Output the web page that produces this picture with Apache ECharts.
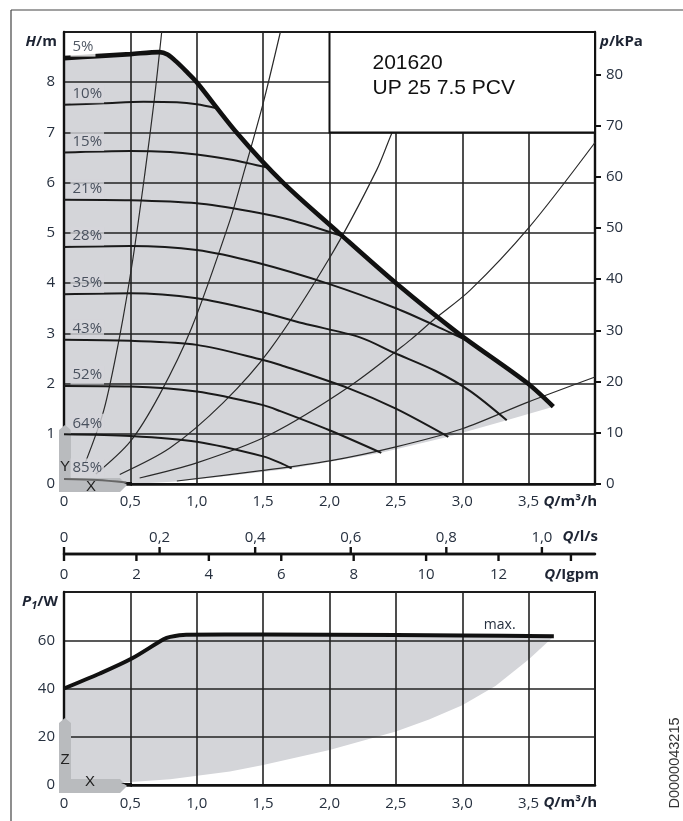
<!DOCTYPE html>
<html>
<head>
<meta charset="utf-8">
<script src="https://cdn.jsdelivr.net/npm/echarts@6/dist/echarts.min.js"></script>
<style>
html,body{margin:0;padding:0;background:#fff;}
#c{width:683px;height:821px;}
</style>
</head>
<body>
<div id="c"></div>
<script>
// ---- tick positions and labels ----
const qTicks = [0, 0.5, 1, 1.5, 2, 2.5, 3, 3.5];
const qTickText = ['0', '0,5', '1,0', '1,5', '2,0', '2,5', '3,0', '3,5'];
const hTicks = [0, 1, 2, 3, 4, 5, 6, 7, 8];
const kpaTicks = [0, 10, 20, 30, 40, 50, 60, 70, 80];
const lsTicks = [0, 0.2, 0.4, 0.6, 0.8, 1.0];
const lsTickText = ['0', '0,2', '0,4', '0,6', '0,8', '1,0'];
const gpmTicks = [0, 2, 4, 6, 8, 10, 12, 14];
const gpmLabelTicks = [0, 2, 4, 6, 8, 10, 12];
const pTicks = [0, 20, 40, 60];

// unit conversions for the secondary scales
const KPA_PER_M = 9.80665;
const M3H_PER_LS = 3.6;
const M3H_PER_IGPM = 0.2727654;

// ---- head curves, [Q m³/h, H m] ----
const pctNames = ['5%', '10%', '15%', '21%', '28%', '35%', '43%', '52%', '64%', '85%'];
const curve5 = [[0,8.48],[0.25,8.52],[0.5,8.56],[0.72,8.6],[0.78,8.55],[0.85,8.4],[0.92,8.22],[1.0,8.0],[1.3,7.0],[1.65,6.0],[2.07,5.0],[2.5,4.0],[2.97,3.0],[3.485,2.02],[3.686,1.54]];
const curve10 = [[0,7.55],[0.3,7.58],[0.6,7.61],[0.85,7.6],[1.0,7.56],[1.15,7.48]];
const curve15 = [[0,6.6],[0.5,6.63],[0.8,6.61],[1.0,6.56],[1.25,6.46],[1.55,6.29]];
const curve21 = [[0,5.66],[0.5,5.65],[1.0,5.59],[1.4,5.43],[1.7,5.26],[2.1,4.93]];
const curve28 = [[0,4.72],[0.5,4.74],[1.0,4.66],[1.45,4.41],[2.0,3.98],[2.5,3.5],[2.8,3.15],[3.08,2.8]];
const curve35 = [[0,3.78],[0.5,3.8],[1.0,3.7],[1.45,3.45],[1.8,3.2],[2.23,2.92],[2.48,2.62],[2.8,2.25],[3.06,1.85],[3.335,1.27]];
const curve43 = [[0,2.87],[0.5,2.85],[1.0,2.77],[1.5,2.47],[1.63,2.37],[2.15,1.9],[2.5,1.5],[2.895,0.94]];
const curve52 = [[0,1.95],[0.5,1.94],[1.0,1.84],[1.5,1.57],[1.63,1.45],[2.0,1.07],[2.39,0.62]];
const curve64 = [[0,0.99],[0.5,0.955],[1.0,0.84],[1.5,0.55],[1.63,0.42],[1.715,0.31]];
const curve85 = [[0,0.1],[0.25,0.08],[0.47,0.03]];

// lower limit of the operating range
const rangeLower = [[0.5,0],[0.85,0.05],[1.2,0.15],[1.715,0.31],[2.39,0.62],[2.895,0.94],[3.335,1.27],[3.686,1.54]];

// system curves
const sys1 = [[0.16,0.42],[0.3,1.47],[0.42,2.95],[0.52,4.5],[0.61,6.2],[0.68,7.65],[0.736,9.0]];
const sys2 = [[0.24,0.2],[0.5,0.85],[0.72,1.78],[0.96,3.1],[1.25,5.25],[1.36,6.25],[1.5,7.58],[1.63,9.0]];
const sys3 = [[0.42,0.19],[0.8,0.72],[1.2,1.62],[1.55,2.67],[2.0,4.5],[2.355,6.25],[2.48,7.05],[2.83,9.0]];
const sys4 = [[0.57,0.12],[1.0,0.42],[1.55,0.98],[2.15,1.94],[2.61,2.87],[2.78,3.26],[3.06,3.86],[3.5,5.1],[4.0,6.8]];
const sys5 = [[0.85,0.06],[1.5,0.27],[2.0,0.46],[2.5,0.74],[3.0,1.1],[3.485,1.62],[4.0,2.13]];

// ---- power input, [Q m³/h, P1 W] ----
const powerMax = [[0,40],[0.27,46.2],[0.51,52.4],[0.75,60.4],[0.8,61.4],[0.92,62.3],[1.5,62.4],[2.5,62.2],[3.0,62.0],[3.69,61.7]];
const powerLower = [[0.45,1.0],[0.8,2.4],[1.25,5.6],[1.5,8.3],[2.0,14.5],[2.5,22.2],[2.75,27.2],[3.0,33.1],[3.25,41.0],[3.5,52.0],[3.69,61.7]];

// info box spans this flow/head window
const infoBoxQ = [2.0, 4.0];
const infoBoxH = [7.0, 9.0];
const infoLines = ['201620', 'UP 25 7.5 PCV'];

const FONT = "'Open Sans', 'DejaVu Sans', sans-serif";
const TXT = '#26303f';
const FILL = '#d4d5d9';
const GRID_LINE = { show: true, lineStyle: { color: '#222', width: 1.6 } };
const MID_Y = 554;

const headCurves = [curve5, curve10, curve15, curve21, curve28, curve35, curve43, curve52, curve64, curve85];
const headRegion = [[0,0]].concat(curve5, rangeLower.slice().reverse());
const powerRegion = [[0,0]].concat(powerMax, powerLower.slice().reverse(), [[0.45,0]]);

function polygonSeries(points, xi, yi) {
  return {
    type: 'custom', xAxisIndex: xi, yAxisIndex: yi, z: 1, silent: true,
    data: points,
    renderItem: function (params, api) {
      if (params.dataIndex !== 0) return null;
      return {
        type: 'polygon',
        shape: { points: points.map(p => api.coord(p)) },
        style: { fill: FILL }
      };
    }
  };
}

function lineSeries(data, width, color, z, xi, yi) {
  return {
    type: 'line', data: data, xAxisIndex: xi || 0, yAxisIndex: yi || 0,
    showSymbol: false, symbol: 'none', smooth: 0.3, z: z, silent: true,
    lineStyle: { width: width, color: color }
  };
}

function qAxis(gridIndex, margin) {
  return {
    type: 'value', gridIndex: gridIndex, position: 'bottom', min: 0, max: 4, interval: 0.5, z: 3,
    axisLine: { show: true, onZero: false, lineStyle: { color: '#111', width: 2.6 } },
    axisTick: { show: false },
    axisLabel: {
      customValues: qTicks, margin: margin, color: TXT, fontSize: 15, fontFamily: FONT,
      formatter: v => qTickText[qTicks.indexOf(v)]
    },
    splitLine: GRID_LINE
  };
}

const series = [
  polygonSeries(headRegion, 0, 0),
  lineSeries(sys1, 1.2, '#2a2a2a', 4),
  lineSeries(sys2, 1.2, '#2a2a2a', 4),
  lineSeries(sys3, 1.2, '#2a2a2a', 4),
  lineSeries(sys4, 1.2, '#2a2a2a', 4),
  lineSeries(sys5, 1.2, '#2a2a2a', 4),
  lineSeries(curve10, 2, '#1a1a1a', 5),
  lineSeries(curve15, 2, '#1a1a1a', 5),
  lineSeries(curve21, 2, '#1a1a1a', 5),
  lineSeries(curve28, 2, '#1a1a1a', 5),
  lineSeries(curve35, 2, '#1a1a1a', 5),
  lineSeries(curve43, 2, '#1a1a1a', 5),
  lineSeries(curve52, 2, '#1a1a1a', 5),
  lineSeries(curve64, 2, '#1a1a1a', 5),
  lineSeries(curve85, 2, '#666', 5),
  lineSeries(curve5, 4.6, '#111', 6),
  {
    type: 'scatter', xAxisIndex: 0, yAxisIndex: 0, z: 7, silent: true,
    symbolSize: 1, itemStyle: { color: 'transparent' },
    data: headCurves.map((c, i) => i === 0
      ? { value: c[0], label: { backgroundColor: '#fff' } }
      : { value: c[0] }),
    label: {
      show: true, position: 'right', distance: 0, offset: [6, -11],
      align: 'left', verticalAlign: 'middle',
      formatter: p => pctNames[p.dataIndex],
      backgroundColor: FILL, padding: [1, 2], lineHeight: 17,
      color: TXT, fontSize: 15, fontFamily: FONT
    }
  },
  polygonSeries(powerRegion, 1, 2),
  Object.assign(lineSeries(powerMax, 4, '#111', 6, 1, 2), {
    endLabel: {
      show: true, formatter: 'max.', distance: 0, offset: [-70, -11],
      align: 'left', verticalAlign: 'middle',
      color: TXT, fontSize: 14, fontFamily: FONT
    }
  })
];

const option = {
  animation: false,
  backgroundColor: '#fff',
  textStyle: { fontFamily: FONT, color: TXT },
  grid: [
    { left: 64, top: 32, width: 531, height: 452, show: true, borderColor: '#111', borderWidth: 2, backgroundColor: 'transparent', z: 3 },
    { left: 64, top: 592, width: 531, height: 193, show: true, borderColor: '#111', borderWidth: 2, backgroundColor: 'transparent', z: 3 },
    { left: 64, top: MID_Y, width: 531, height: 24 }
  ],
  xAxis: [
    qAxis(0, 10),
    qAxis(1, 11),
    {
      // l/s scale sits on top of the power panel, lifted up to the shared line
      type: 'value', gridIndex: 1, position: 'top', offset: 592 - MID_Y, min: 0, max: 4 / M3H_PER_LS, z: 3,
      axisLine: { show: true, onZero: false, lineStyle: { color: '#111', width: 2.4 } },
      axisTick: { show: false },
      axisLabel: {
        customValues: lsTicks, margin: 9, color: TXT, fontSize: 15, fontFamily: FONT,
        formatter: v => lsTickText[lsTicks.indexOf(v)]
      },
      splitLine: { show: false }
    },
    {
      // Igpm scale hangs below the same line
      type: 'value', gridIndex: 2, position: 'top', min: 0, max: 4 / M3H_PER_IGPM, z: 3,
      axisLine: { show: true, onZero: false, lineStyle: { color: '#111', width: 2.4 } },
      axisTick: { show: false },
      axisLabel: {
        inside: true, customValues: gpmLabelTicks, margin: 13, color: TXT, fontSize: 15, fontFamily: FONT,
        formatter: v => String(v)
      },
      splitLine: { show: false }
    }
  ],
  yAxis: [
    {
      type: 'value', gridIndex: 0, min: 0, max: 9, interval: 1, z: 3,
      axisLine: { show: true, onZero: false, lineStyle: { color: '#111', width: 2.4 } },
      axisTick: { show: false },
      axisLabel: { customValues: hTicks, margin: 9, color: TXT, fontSize: 15, fontFamily: FONT },
      splitLine: GRID_LINE
    },
    {
      type: 'value', gridIndex: 0, position: 'right', min: 0, max: 9 * KPA_PER_M, z: 3,
      axisLine: { show: true, onZero: false, lineStyle: { color: '#111', width: 2.4 } },
      axisTick: { show: true, customValues: kpaTicks, length: 6, lineStyle: { color: '#111', width: 2 } },
      axisLabel: { customValues: kpaTicks, margin: 11, color: TXT, fontSize: 15, fontFamily: FONT },
      splitLine: { show: false }
    },
    {
      type: 'value', gridIndex: 1, min: 0, max: 80, interval: 20, z: 3,
      axisLine: { show: true, onZero: false, lineStyle: { color: '#111', width: 2.4 } },
      axisTick: { show: false },
      axisLabel: { customValues: pTicks, margin: 9, color: TXT, fontSize: 15, fontFamily: FONT },
      splitLine: GRID_LINE
    },
    { type: 'value', gridIndex: 2, show: false, min: 0, max: 1 }
  ],
  series: series
};

const chart = echarts.init(document.getElementById('c'));
chart.setOption(option);

// ---- decorations placed after the axes are laid out ----
const boxA = chart.convertToPixel({ xAxisIndex: 0, yAxisIndex: 0 }, [infoBoxQ[0], infoBoxH[1]]);
const boxB = chart.convertToPixel({ xAxisIndex: 0, yAxisIndex: 0 }, [infoBoxQ[1], infoBoxH[0]]);
const o1 = chart.convertToPixel({ xAxisIndex: 0, yAxisIndex: 0 }, [0, 0]);
const o2 = chart.convertToPixel({ xAxisIndex: 1, yAxisIndex: 2 }, [0, 0]);
const topY = chart.convertToPixel({ yAxisIndex: 0 }, 9);
const botTop = chart.convertToPixel({ yAxisIndex: 2 }, 80);
const rightX = chart.convertToPixel({ xAxisIndex: 0 }, 4);

// tick marks on the shared flow-scale line: l/s upwards, Igpm downwards
const scaleTicks = []
  .concat(lsTicks.map(v => ({ x: chart.convertToPixel({ xAxisIndex: 2 }, v), dir: -1 })))
  .concat(gpmTicks.map(v => ({ x: chart.convertToPixel({ xAxisIndex: 3 }, v), dir: 1 })))
  .map(t => ({
    type: 'line', z: 30, silent: true,
    shape: { x1: t.x, y1: MID_Y, x2: t.x, y2: MID_Y + t.dir * 7 },
    style: { stroke: '#111', lineWidth: 2.4 }
  }));

const nameRich = {
  i: { fontStyle: 'italic', fontWeight: 'bold', fontSize: 15, fontFamily: FONT, fill: '#1d2433' },
  b: { fontWeight: 'bold', fontSize: 15, fontFamily: FONT, fill: '#1d2433' },
  s: { fontStyle: 'italic', fontWeight: 'bold', fontSize: 11, fontFamily: FONT, fill: '#1d2433', padding: [7, 0, 0, 0] }
};
function nameText(str, x, y, align) {
  return {
    type: 'text', z: 30, silent: true,
    style: { text: str, x: x, y: y, align: align, verticalAlign: 'middle', rich: nameRich }
  };
}
function arrowIcon(ox, oy, top) {
  // L-shaped axis marker in the corner of a panel
  return {
    type: 'polygon', z: 4, silent: true,
    shape: { points: [[ox - 5, oy + 8], [ox - 5, top + 5], [ox + 1, top], [ox + 7, top + 5], [ox + 7, oy - 6], [ox + 56, oy - 6], [ox + 63, oy + 1], [ox + 56, oy + 8]] },
    style: { fill: '#b9bbbe' }
  };
}
function wedge(ox, oy) {
  return {
    type: 'polygon', z: 4, silent: true,
    shape: { points: [[ox + 57, oy - 2], [ox + 68, oy - 2], [ox + 68, oy + 2]] },
    style: { fill: '#111' }
  };
}
function plainText(str, x, y, size, color, rotation) {
  return {
    type: 'text', z: 30, silent: true, x: x, y: y, rotation: rotation || 0,
    style: { text: str, x: 0, y: 0, fontSize: size, fontFamily: "'Liberation Sans', Arial, sans-serif", fill: color, align: 'center', verticalAlign: 'middle' }
  };
}

chart.setOption({
  graphic: [
    { type: 'line', silent: true, z: 30, shape: { x1: 11, y1: 10, x2: 11, y2: 821 }, style: { stroke: '#444', lineWidth: 1.2 } },
    { type: 'line', silent: true, z: 30, shape: { x1: 11, y1: 10, x2: 683, y2: 10 }, style: { stroke: '#444', lineWidth: 1.2 } },
    {
      type: 'rect', z: 20, silent: true,
      shape: { x: boxA[0], y: boxA[1], width: boxB[0] - boxA[0], height: boxB[1] - boxA[1] },
      style: { fill: '#fff', stroke: '#111', lineWidth: 2 }
    },
    {
      type: 'text', z: 21, silent: true,
      style: {
        text: infoLines.join('\n'), x: boxA[0] + 43, y: boxA[1] + 19,
        fontSize: 21, lineHeight: 25, fontFamily: "'Liberation Sans', Arial, sans-serif",
        fill: '#111', align: 'left', verticalAlign: 'top'
      }
    },
    arrowIcon(o1[0], o1[1], o1[1] - 59),
    wedge(o1[0], o1[1]),
    plainText('Y', o1[0] + 1, o1[1] - 17, 15, '#222'),
    plainText('X', o1[0] + 27, o1[1] + 3, 15, '#222'),
    arrowIcon(o2[0], o2[1], o2[1] - 67),
    wedge(o2[0], o2[1]),
    plainText('Z', o2[0] + 1, o2[1] - 25, 15, '#222'),
    plainText('X', o2[0] + 26, o2[1] - 3, 15, '#222'),
    nameText('{i|H}{b|/m}', o1[0] - 7, topY + 10, 'right'),
    nameText('{i|p}{b|/kPa}', rightX + 5, topY + 10, 'left'),
    nameText('{i|Q}{b|/m³/h}', rightX + 2, o1[1] + 18, 'right'),
    nameText('{i|Q}{b|/l/s}', rightX + 3, MID_Y - 17, 'right'),
    nameText('{i|Q}{b|/Igpm}', rightX + 4, MID_Y + 21, 'right'),
    nameText('{i|P}{s|1}{b|/W}', o2[0] - 6, botTop + 10, 'right'),
    nameText('{i|Q}{b|/m³/h}', rightX + 2, o2[1] + 18, 'right'),
    plainText('D0000043215', 675, 763, 14.5, '#333', Math.PI / 2)
  ].concat(scaleTicks)
});
</script>
</body>
</html>
